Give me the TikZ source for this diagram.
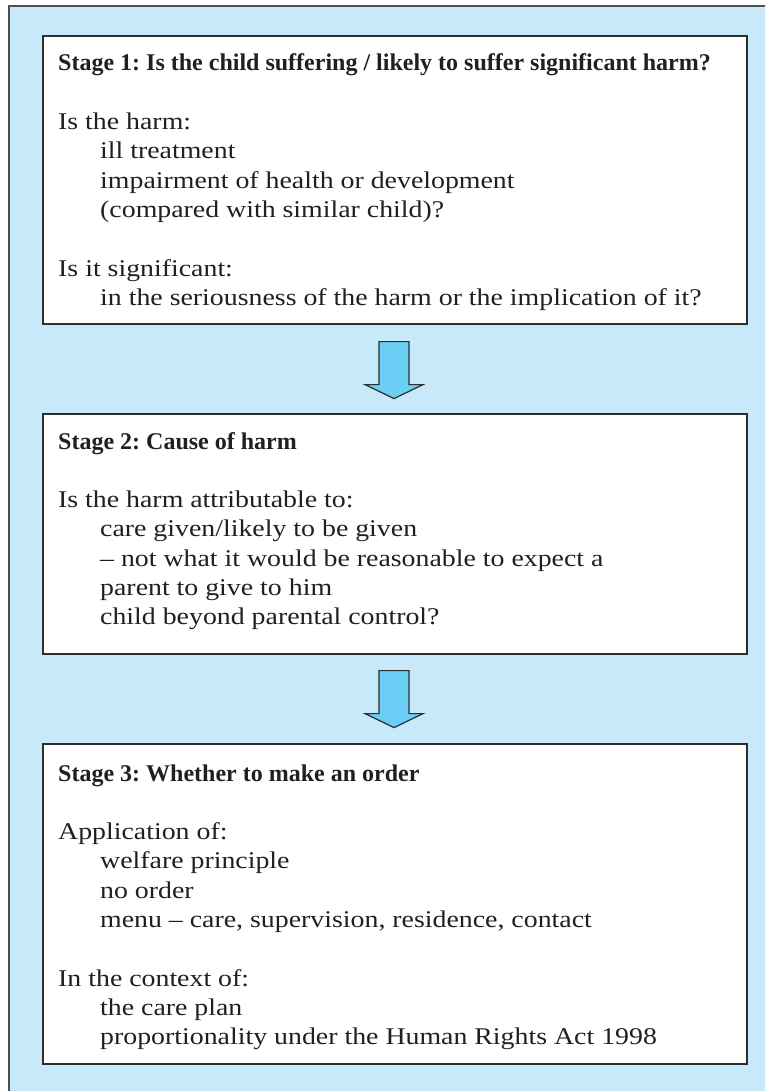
\documentclass[tikz,border=0pt]{standalone}
\usepackage{fontspec}
\setmainfont{Liberation Serif}[UprightFeatures={FakeStretch=1.16}]
\usetikzlibrary{calc}
\frenchspacing
\definecolor{panelblue}{RGB}{199,233,249}
\definecolor{arrowblue}{RGB}{106,206,245}
\definecolor{framegray}{RGB}{80,80,80}
\definecolor{boxgray}{RGB}{45,45,45}
\definecolor{inkgray}{RGB}{35,31,32}
\newcommand{\ind}{\hspace*{42pt}}
% lines of a stage box, baseline on the first line
\newenvironment{stagelines}{\begin{tabular}[t]{@{}l@{}}}{\end{tabular}}
\begin{document}
\begin{tikzpicture}[x=1pt,y=-1pt,
  stagebox/.style={draw=boxgray,line width=1.6pt,fill=white,anchor=north west,
    minimum width=704pt,inner sep=0pt},
  stagetext/.style={anchor=base west,inner sep=0pt,text=inkgray,
    font=\fontsize{24}{29.3}\selectfont},
  downarrow/.style={draw=boxgray,line width=1.2pt,fill=arrowblue,line join=miter}]
\useasboundingbox (0,0) rectangle (765,1091);
\fill[white] (0,0) rectangle (765,1091);
% outer panel, running off the right and bottom edges
\begin{scope}
\clip (0,0) rectangle (765,1091);
\draw[draw=framegray,line width=1.6pt,fill=panelblue] (9,6) rectangle (780,1110);
\end{scope}

% stage boxes
\node[stagebox,minimum height=288pt] (b1) at (42,35) {};
\node[stagebox,minimum height=240pt] (b2) at (42,413) {};
\node[stagebox,minimum height=320pt] (b3) at (42,743) {};

\node[stagetext] (t1) at ($(b1.north west)+(16,36)$) {\begin{stagelines}
  \textbf{Stage 1: Is the child suffering / likely to suffer significant harm?}\\[29.3pt]
  Is the harm:\\
  \ind ill treatment\\
  \ind impairment of health or development\\
  \ind (compared with similar child)?\\[29.3pt]
  Is it significant:\\
  \ind in the seriousness of the harm or the implication of it?
  \end{stagelines}};
\node[stagetext] (t2) at ($(b2.north west)+(16,36)$) {\begin{stagelines}
  \textbf{Stage 2: Cause of harm}\\[29.3pt]
  Is the harm attributable to:\\
  \ind care given/likely to be given\\
  \ind -- not what it would be reasonable to expect a\\
  \ind parent to give to him\\
  \ind child beyond parental control?
  \end{stagelines}};
\node[stagetext] (t3) at ($(b3.north west)+(16,38)$) {\begin{stagelines}
  \textbf{Stage 3: Whether to make an order}\\[29.3pt]
  Application of:\\
  \ind welfare principle\\
  \ind no order\\
  \ind menu -- care, supervision, residence, contact\\[29.3pt]
  In the context of:\\
  \ind the care plan\\
  \ind proportionality under the Human Rights Act 1998
  \end{stagelines}};

% block arrows between stages
\coordinate (a1) at ($(b1.south west)+(352,17)$);
\coordinate (a2) at ($(b2.south west)+(352,16)$);
\foreach \a in {a1,a2}{
  \draw[downarrow] ($(\a)+(-15,0)$) -- ($(\a)+(15,0)$) -- ($(\a)+(15,43)$)
    -- ($(\a)+(29,43)$) -- ($(\a)+(0,57)$) -- ($(\a)+(-29,43)$)
    -- ($(\a)+(-15,43)$) -- cycle;
}
\end{tikzpicture}
\end{document}
